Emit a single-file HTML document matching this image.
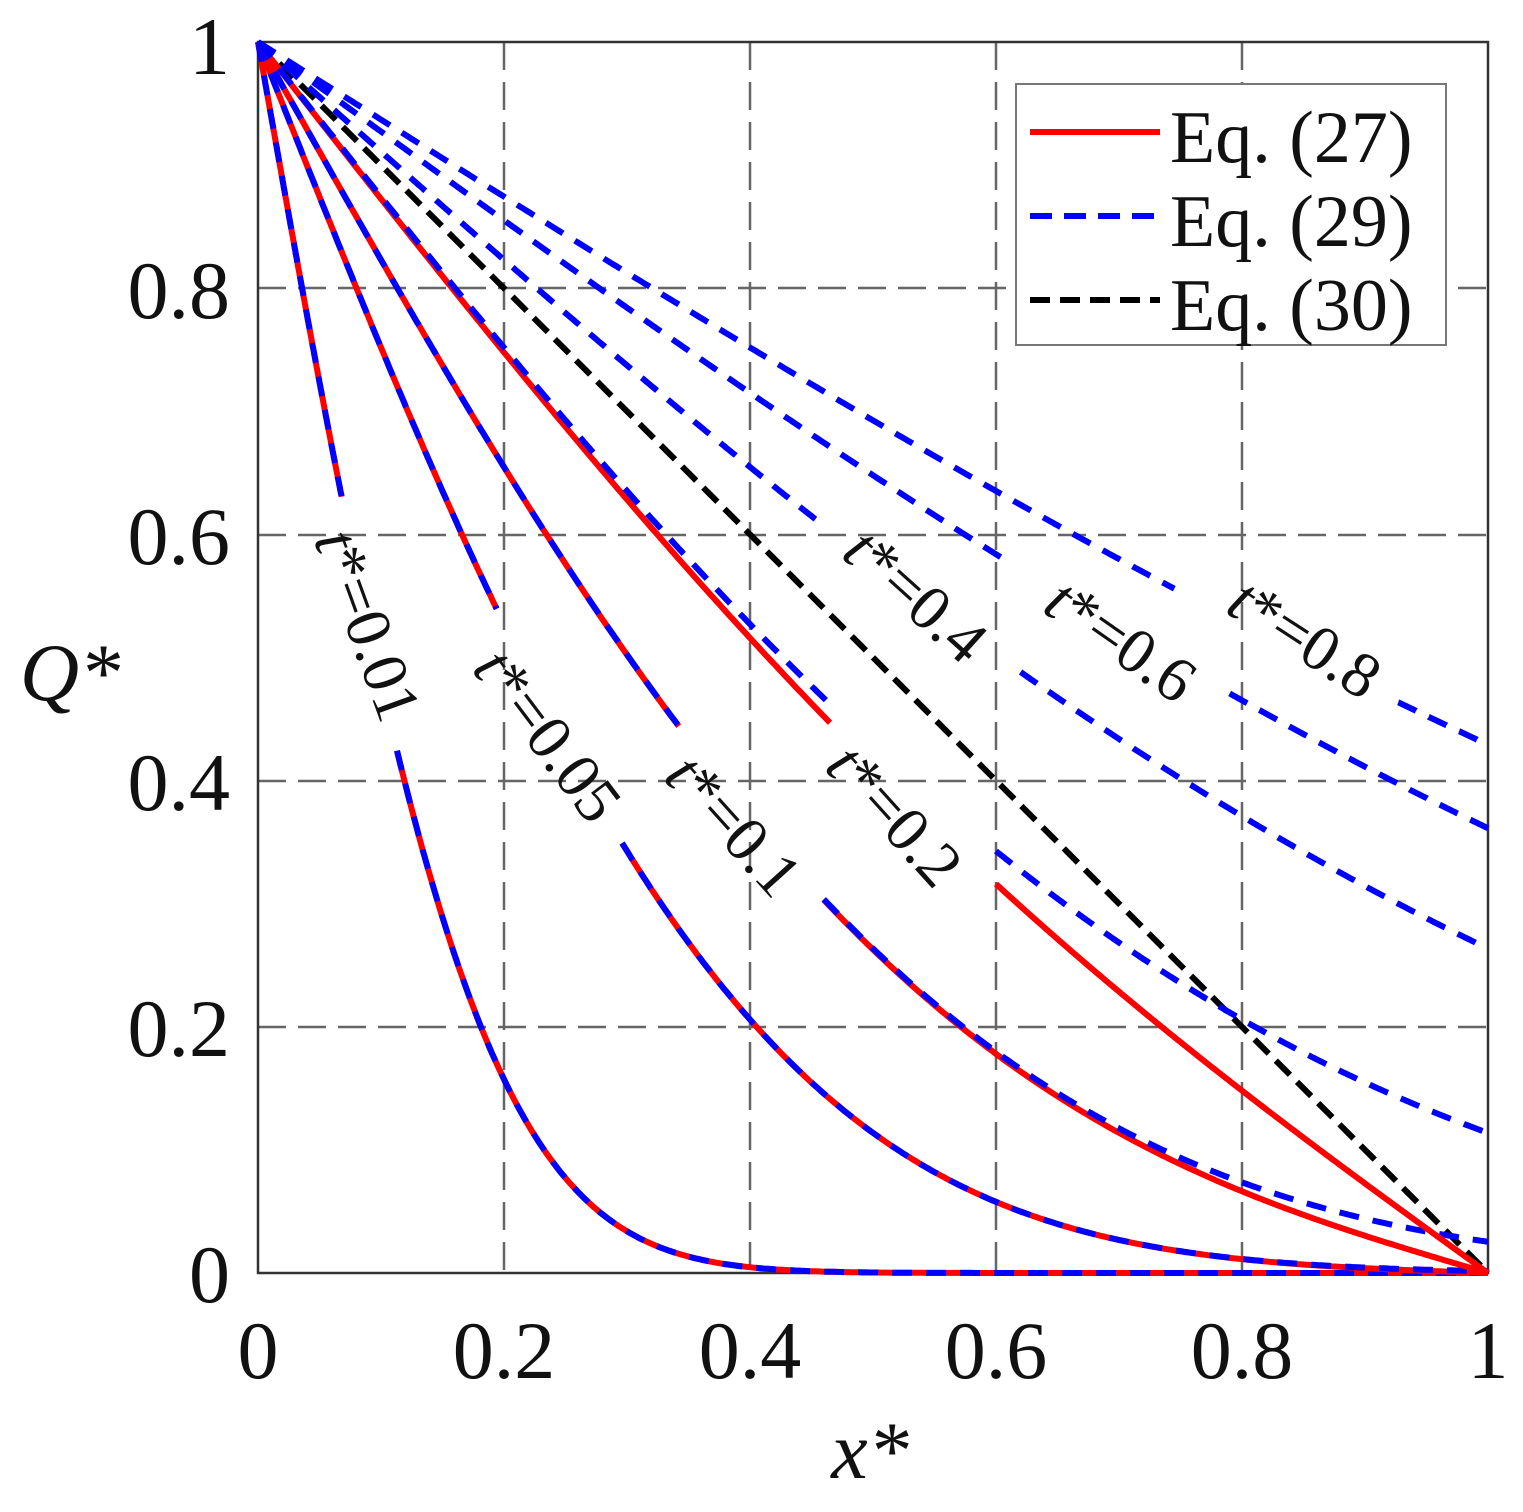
<!DOCTYPE html>
<html><head><meta charset="utf-8"><style>
html,body{margin:0;padding:0;background:#fff;}
svg{display:block;}
text{font-family:"Liberation Serif",serif;fill:#111;}
</style></head><body>
<svg id="s" width="1523" height="1512" viewBox="0 0 1523 1512" xmlns="http://www.w3.org/2000/svg">
<rect x="0" y="0" width="1523" height="1512" fill="#fff"/>
<g stroke="#666" stroke-width="2.5" stroke-dasharray="28,12" fill="none">
<line x1="504" y1="42" x2="504" y2="1273"/>
<line x1="750" y1="42" x2="750" y2="1273"/>
<line x1="996" y1="42" x2="996" y2="1273"/>
<line x1="1242" y1="42" x2="1242" y2="1273"/>
<line x1="258" y1="1027" x2="1488" y2="1027"/>
<line x1="258" y1="781" x2="1488" y2="781"/>
<line x1="258" y1="535" x2="1488" y2="535"/>
<line x1="258" y1="288" x2="1488" y2="288"/>
</g>
<rect x="258" y="42" width="1230" height="1231" fill="none" stroke="#333" stroke-width="2.5"/>
<g id="curves"></g>
<g font-size="82" text-anchor="middle">
<text x="258" y="1378">0</text>
<text x="504" y="1378">0.2</text>
<text x="750" y="1378">0.4</text>
<text x="996" y="1378">0.6</text>
<text x="1242" y="1378">0.8</text>
<text x="1488" y="1378">1</text>
</g>
<g font-size="82" text-anchor="end">
<text x="230" y="1302">0</text>
<text x="230" y="1056">0.2</text>
<text x="230" y="810">0.4</text>
<text x="230" y="564">0.6</text>
<text x="230" y="318">0.8</text>
<text x="230" y="74">1</text>
</g>
<text x="870" y="1478" font-size="82" font-style="italic" text-anchor="middle">x*</text>
<text x="70" y="700" font-size="82" font-style="italic" text-anchor="middle">Q*</text>
<g font-size="64" text-anchor="middle" dominant-baseline="central">
<text transform="translate(368,625) rotate(70)"><tspan font-style="italic">t</tspan>*=0.01</text>
<text transform="translate(548,735) rotate(53)"><tspan font-style="italic">t</tspan>*=0.05</text>
<text transform="translate(734,825) rotate(48)"><tspan font-style="italic">t</tspan>*=0.1</text>
<text transform="translate(895,815) rotate(48)"><tspan font-style="italic">t</tspan>*=0.2</text>
<text transform="translate(916,595) rotate(42)"><tspan font-style="italic">t</tspan>*=0.4</text>
<text transform="translate(1121,640) rotate(35)"><tspan font-style="italic">t</tspan>*=0.6</text>
<text transform="translate(1305,638) rotate(33)"><tspan font-style="italic">t</tspan>*=0.8</text>
</g>
<rect x="1016" y="84" width="430" height="261" fill="#fff" stroke="#777" stroke-width="2"/>
<line x1="1030" y1="132" x2="1160" y2="132" stroke="#ff0000" stroke-width="6"/>
<line x1="1030" y1="216" x2="1160" y2="216" stroke="#0000ff" stroke-width="6" stroke-dasharray="22,12"/>
<line x1="1030" y1="300" x2="1160" y2="300" stroke="#000" stroke-width="6" stroke-dasharray="20,10"/>
<g font-size="74">
<text x="1170" y="162">Eq. (27)</text>
<text x="1170" y="246">Eq. (29)</text>
<text x="1170" y="330">Eq. (30)</text>
</g>
</svg>
<script>
function erf(x){var s=x<0?-1:1;x=Math.abs(x);var t=1/(1+0.3275911*x);
var y=1-(((((1.061405429*t-1.453152027)*t)+1.421413741)*t-0.284496736)*t+0.254829592)*t*Math.exp(-x*x);return s*y;}
function erfc(x){return 1-erf(x);}
function blue(x,t){return erfc(x/(2*Math.sqrt(t)));}
function red(x,t){var s=1-x;for(var n=1;n<400;n++){s-=2/(n*Math.PI)*Math.sin(n*Math.PI*x)*Math.exp(-n*n*Math.PI*Math.PI*t);}return Math.max(0,s);}
function X(x){return 258+1230*x;} function Y(q){return 1273-1231*q;}
function path(f,t,a,b){var d="",N=300;for(var i=0;i<=N;i++){var x=a+(b-a)*i/N;var q=(x==0)?1:f(x,t);d+=(i?"L":"M")+X(x).toFixed(1)+","+Y(q).toFixed(1);}return d;}
var g=document.getElementById("curves"),NS="http://www.w3.org/2000/svg";
function add(d,col,w,dash){var p=document.createElementNS(NS,"path");p.setAttribute("d",d);p.setAttribute("fill","none");p.setAttribute("stroke",col);p.setAttribute("stroke-width",w);if(dash)p.setAttribute("stroke-dasharray",dash);g.appendChild(p);}
var segs=[[0.01,[[0,0.068],[0.113,1]],true],[0.05,[[0,0.194],[0.296,1]],true],[0.1,[[0,0.342],[0.46,1]],true],[0.2,[[0,0.465],[0.6,1]],true],
[0.4,[[0,0.455],[0.62,1]],false],[0.6,[[0,0.61],[0.79,1]],false],[0.8,[[0,0.745],[0.927,1]],false]];
add("M"+X(0)+","+Y(1)+"L"+X(1)+","+Y(0),"#000",6,"20,10");
segs.forEach(function(s){s[1].forEach(function(r){
 if(s[2]) add(path(red,s[0],r[0],r[1]),"#ff0000",6,null);
 add(path(blue,s[0],r[0],r[1]),"#0000ff",6,"20,14");
});});
</script>
</body></html>
